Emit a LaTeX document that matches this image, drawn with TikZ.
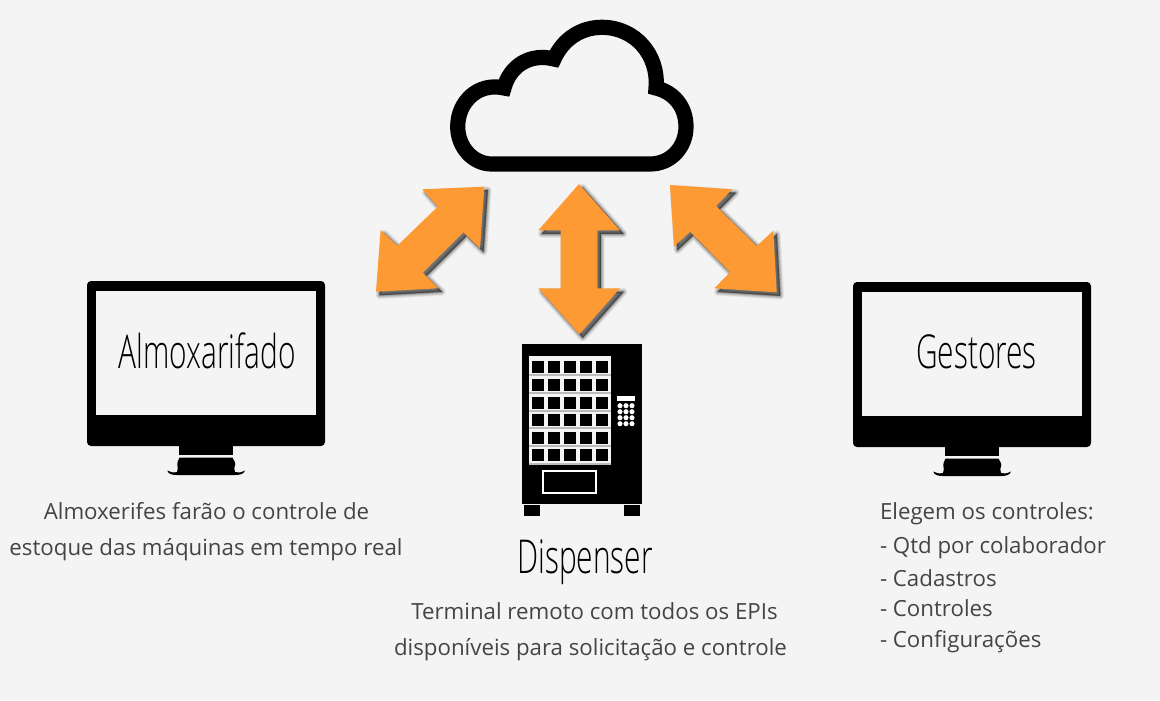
\documentclass[tikz,border=0pt]{standalone}
\usepackage{fontspec}
\setmainfont{Open Sans}
\newfontfamily\condfont[FakeStretch=0.64]{Open Sans Light}
\definecolor{bgc}{HTML}{F4F4F4}
\definecolor{orangec}{HTML}{FD9A33}
\definecolor{textc}{HTML}{444444}
\definecolor{shelfc}{HTML}{BBBBBB}
\tikzset{
  px/.style={x=0.75pt,y=-0.75pt},
  body/.style={inner sep=0pt,outer sep=0pt,text=textc,font=\fontsize{16.7pt}{19pt}\selectfont,anchor=base},
  bodyl/.style={body,anchor=base west},
  big/.style={inner sep=0pt,outer sep=0pt,text=black,font=\condfont\fontsize{35pt}{38pt}\selectfont,anchor=base},
  blk/.style={fill=black,draw=none},
}
\newcommand{\blockarrow}[1]{%
  \foreach \w/\o in {8/.035,7/.04,6/.045,5/.05,4/.06,3/.07,2/.09,1/.11,0.1/.14}{
    \fill[black,opacity=\o,draw=black,line width=\w*0.75pt,line join=round,shift={(3.5,3.5)}] #1 -- cycle;
  }
  \fill[orangec] #1 -- cycle;
}
\newcommand{\monitor}[2]{%
  \begin{scope}[shift={(#1,#2)}]
    \fill[blk,rounded corners=3pt] (87,281) rectangle (325,446);
    \fill[bgc] (96.3,290.5) rectangle (316,415);
    \fill[blk] (179.3,445) -- (232.7,445) -- (232.7,455) -- (179.3,455) -- cycle;
    \fill[blk] (179.5,457.5) -- (232.5,457.5) .. controls (234,461) and (236,463) .. (235.3,464)
      .. controls (234,467) and (234,470) .. (235,472) .. controls (240,473) and (243,472) .. (245,470.5)
      .. controls (244,474) and (240,475) .. (235,475) -- (177,475)
      .. controls (172,475) and (168,474) .. (167.3,470.5) .. controls (170,472) and (173,473) .. (177,472)
      .. controls (178,470) and (178,467) .. (177.3,464) .. controls (177,463) and (178,461) .. (179.5,457.5) -- cycle;
  \end{scope}
}
\begin{document}
\begin{tikzpicture}[px]
\useasboundingbox (0,0) rectangle (1160,700);
\fill[bgc] (0,0) rectangle (1160,700);
% cloud
\draw[black,line width=11.4pt,miter limit=10,line join=miter]
  (491.7,164) -- (650,164)
  .. controls (671,164) and (686,147) .. (686,126.7)
  .. controls (686,106) and (673,92) .. (656,88)
  .. controls (659,55) and (635,27.3) .. (602,27.3)
  .. controls (581,27.3) and (563,39) .. (554,59)
  .. controls (531,53) and (510,65) .. (504,88)
  .. controls (478,82) and (457.7,102) .. (457.7,126.7)
  .. controls (457.7,147) and (473,164) .. (491.7,164) -- cycle;
% arrows
\blockarrow{(484.3,186.7) -- (422.3,189.3) -- (437.7,206.7) -- (397.3,245.7) -- (380.7,230) -- (376,291.7) -- (438.3,288.3) -- (422.7,272.7) -- (463.3,232.3) -- (480,248.3)}
\blockarrow{(579,184) -- (620,230.3) -- (597.3,230.3) -- (597.3,288.3) -- (620,288.3) -- (579.3,334.3) -- (538.3,288.3) -- (560.7,288.3) -- (560.7,230.3) -- (538.3,230.3)}
\blockarrow{(670,185) -- (732.3,189.3) -- (716,206) -- (756.7,246) -- (773.3,230.7) -- (776.7,292.3) -- (714.3,288.3) -- (730,272.3) -- (690,231.7) -- (674,246.7)}
% monitors
\monitor{0}{0}
\monitor{766}{1}
% dispenser
\fill[blk] (522,344) rectangle (642,503.7);
\fill[bgc] (529,356) rectangle (610.7,465);
\foreach \ry in {374,392,410,427,445,463}{\fill[shelfc] (529,\ry) rectangle (610.7,\ry+1.7);}
\foreach \ry in {361,379,397,414,432,449}{
  \foreach \rx in {532,548,564,580,596}{\fill[blk] (\rx,\ry) rectangle (\rx+12,\ry+12);}
}
\draw[white,line width=1.5pt,fill=black] (543.3,471) rectangle (596.3,493);
\fill[white] (617,396) rectangle (634.7,400.7);
\foreach \ry in {405.7,411.7,417.7,423.7}{
  \foreach \rx in {620,626,632}{\fill[white] (\rx,\ry) circle (1.9pt);}
}
\fill[blk] (524,505) rectangle (540,515.7);
\fill[blk] (624,505) rectangle (640,515.7);
% texts
\node[big] (almox) at (207,368) {Almoxarifado};
\node[big] (gest) at (976.5,368) {Gestores};
\node[big] (disp) at (585,573) {Dispenser};
\node[body] (a1) at (206.5,519) {Almoxerifes farão o controle de};
\node[body] (a2) at (206,555) {estoque das máquinas em tempo real};
\node[body] (d1) at (594.5,619) {Terminal remoto com todos os EPIs};
\node[body] (d2) at (590.5,655) {disponíveis para solicitação e controle};
\node[bodyl] (g1) at (880,519) {Elegem os controles:};
\node[bodyl] (g2) at (880,553) {- Qtd por colaborador};
\node[bodyl] (g3) at (880,586) {- Cadastros};
\node[bodyl] (g4) at (880,616) {- Controles};
\node[bodyl] (g5) at (880,647) {- Configurações};
\end{tikzpicture}
\end{document}
